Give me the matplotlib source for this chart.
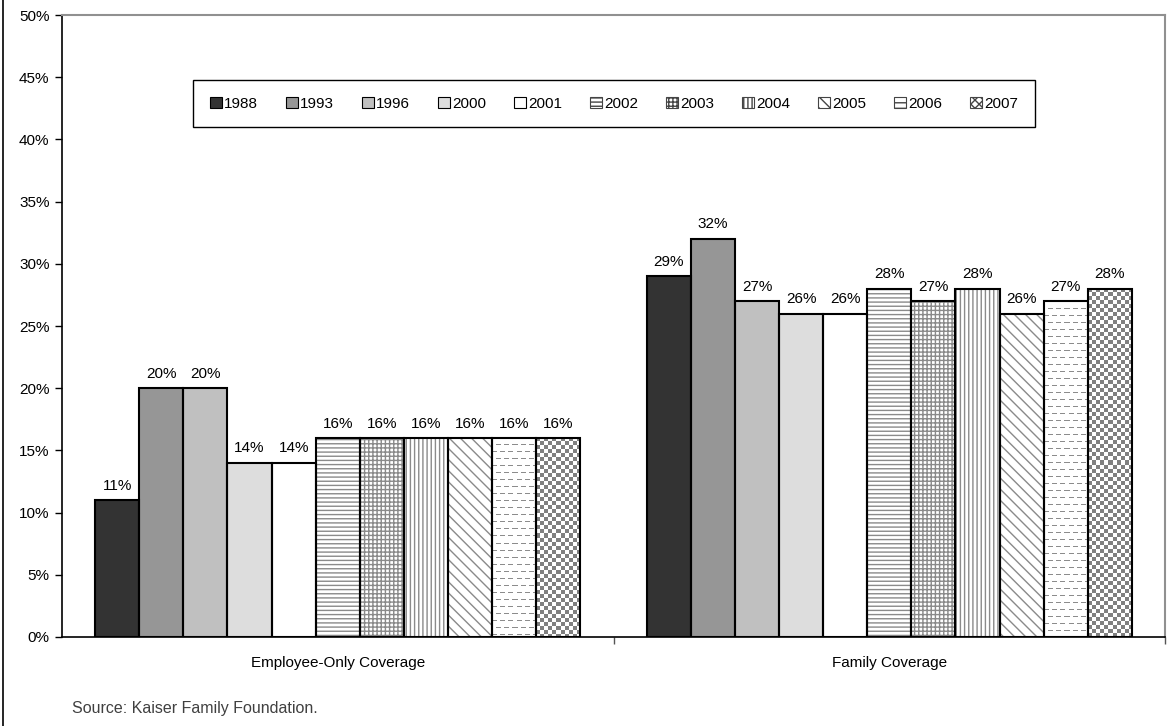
import numpy as np
import matplotlib
matplotlib.use("Agg")
from matplotlib import pyplot as plt
from matplotlib.patches import Rectangle
from matplotlib.lines import Line2D

plt.rcParams['font.family'] = ['Liberation Sans', 'DejaVu Sans']
plt.rcParams['font.size'] = 11
plt.rcParams['hatch.linewidth'] = 1.0

# premium contribution shares by year
categories = ["Employee-Only Coverage", "Family Coverage"]
years = ["1988", "1993", "1996", "2000", "2001", "2002", "2003", "2004", "2005", "2006", "2007"]
employee_only = [11, 20, 20, 14, 14, 16, 16, 16, 16, 16, 16]
family = [29, 32, 27, 26, 26, 28, 27, 28, 26, 27, 28]

fills = ["#333333", "#969696", "#c0c0c0", "#dddddd", "white",
         "white", "white", "white", "white", "white", "white"]
hatches = [None, None, None, None, None, "----", "++++", "||||", "\\\\\\", "dash", "check"]

fig = plt.figure(figsize=(11.72, 7.26), dpi=100)
ax = fig.add_axes([0.0529, 0.1226, 0.9412, 0.8567])
ax.set_xlim(-0.5, 1.5)
ax.set_ylim(0, 50)

n = len(years)
group_w = 0.88
w = group_w / n
xc = np.arange(len(categories))
gray = "#8a8a8a"


def pattern_image(kind, rows, cols):
    img = np.ones((rows, cols))
    if kind == "check":
        yy, xx = np.mgrid[0:rows, 0:cols]
        img[((yy // 4) + (xx // 4)) % 2 == 0] = 0.5
    elif kind == "dash":
        for r in range(0, rows, 7):
            off = 0 if (r // 7) % 2 == 0 else 4
            for c in range(-off, cols, 8):
                img[r, max(c, 0):max(c + 5, 0)] = 0.55
    return img


fig.canvas.draw()
px_per_x = ax.transData.transform((1, 0))[0] - ax.transData.transform((0, 0))[0]
px_per_y = ax.transData.transform((0, 1))[1] - ax.transData.transform((0, 0))[1]

handles = []
for i, yr in enumerate(years):
    vals = [employee_only[i], family[i]]
    xs = xc - group_w / 2 + w * (i + 0.5)
    hatch = hatches[i]
    if hatch in ("dash", "check"):
        ax.bar(xs, vals, w, color="white", edgecolor="none", zorder=2)
        for x, v in zip(xs, vals):
            rect = Rectangle((x - w / 2, 0), w, v, transform=ax.transData, facecolor="none", edgecolor="none")
            ax.add_patch(rect)
            rows = int(round(v * px_per_y))
            cols = int(round(w * px_per_x))
            im = ax.imshow(pattern_image(hatch, rows, cols), cmap="gray", vmin=0, vmax=1,
                           extent=(x - w / 2, x + w / 2, 0, v), aspect="auto",
                           interpolation="nearest", zorder=2.5, origin="upper")
            im.set_clip_path(rect)
    elif hatch:
        ax.bar(xs, vals, w, color="white", edgecolor=gray, linewidth=0, hatch=hatch, zorder=2)
    else:
        ax.bar(xs, vals, w, color=fills[i], edgecolor="none", zorder=2)
    ax.bar(xs, vals, w, color="none", edgecolor="black", linewidth=1.5, zorder=3)
    for x, v in zip(xs, vals):
        ax.text(x, v + 0.6, f"{v}%", ha="center", va="bottom", fontsize=11)

    # legend proxy
    if hatch == "dash":
        h = Rectangle((0, 0), 1, 1, facecolor="white", edgecolor="#444444", hatch="---", linewidth=0.8)
    elif hatch == "check":
        h = Rectangle((0, 0), 1, 1, facecolor="white", edgecolor="#444444", hatch="xxxx", linewidth=0.8)
    elif hatch:
        h = Rectangle((0, 0), 1, 1, facecolor="white", edgecolor="#444444", hatch=hatch, linewidth=0.8)
    else:
        h = Rectangle((0, 0), 1, 1, facecolor=fills[i], edgecolor="black", linewidth=0.8)
    handles.append(h)

ax.set_xlim(-0.5, 1.5)
ax.set_ylim(0, 50)

ax.set_yticks(np.arange(0, 51, 5))
ax.set_yticklabels([f"{t}%" for t in range(0, 51, 5)])
ax.tick_params(axis="y", direction="out", length=5, width=1, labelsize=11, pad=4)
ax.set_xticks(xc)
ax.set_xticklabels(categories, fontsize=11)
ax.tick_params(axis="x", length=0, pad=14)
ax.set_xticks([0.5, 1.5], minor=True)
ax.tick_params(axis="x", which="minor", direction="out", length=5, width=1, color="#555555")

for s in ("left", "bottom"):
    ax.spines[s].set_color("black")
    ax.spines[s].set_linewidth(1.2)
for s in ("top", "right"):
    ax.spines[s].set_color("#909090")
    ax.spines[s].set_linewidth(1.5)

# legend box drawn as a plain rectangle, entries centred inside it
box_l, box_r = (193 - 62) / 1103, (1035 - 62) / 1103
box_t, box_b = (637 - 80) / 622, (637 - 127) / 622
ax.add_patch(Rectangle((box_l, box_b), box_r - box_l, box_t - box_b, transform=ax.transAxes,
                       facecolor="white", edgecolor="black", linewidth=1.0, zorder=4))
leg = ax.legend(handles, years, loc="center", bbox_to_anchor=((box_l + box_r) / 2, (box_t + box_b) / 2),
                ncol=n, frameon=False, handlelength=0.75, handleheight=0.75, handletextpad=0.15,
                columnspacing=1.85, borderpad=0, fontsize=11)
leg.set_zorder(5)

fig.text(72 / 1172, 1 - 708 / 726, "Source: Kaiser Family Foundation.", fontsize=11.5, color="#404040",
         va="center", ha="left")
fig.add_artist(Line2D([2.5 / 1172, 2.5 / 1172], [0, 1], transform=fig.transFigure, color="black", linewidth=1.2))

fig.savefig("out.png", dpi=100)
